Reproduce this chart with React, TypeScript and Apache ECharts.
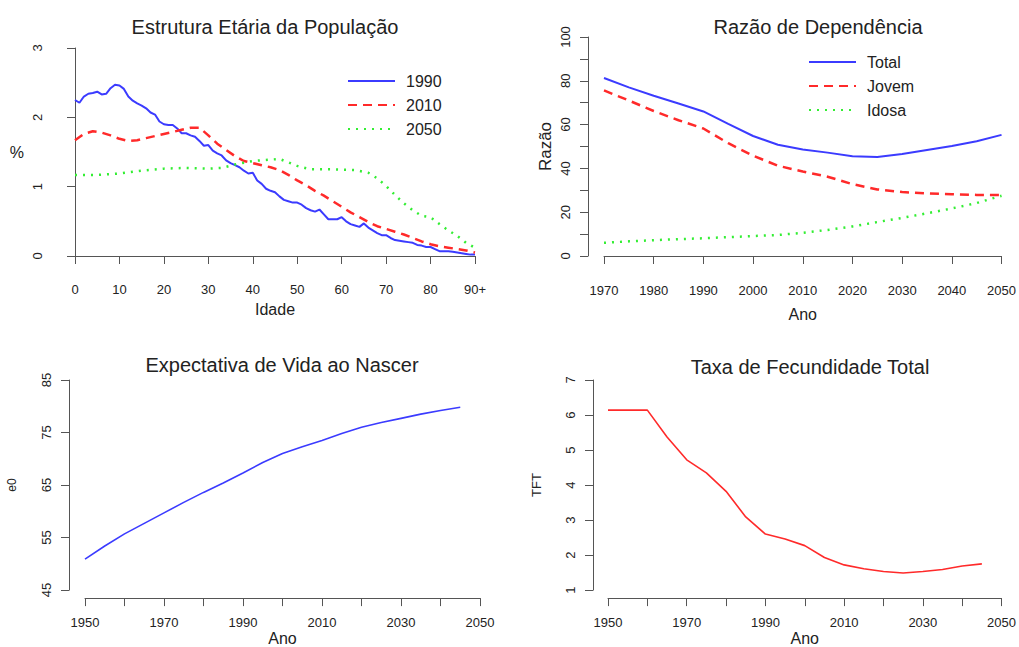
import React, { useEffect, useRef } from "react";
import * as echarts from "echarts";

// Panel 1: Estrutura Etária da População (% by age)
const ages1990 = Array.from({ length: 91 }, (_, i) => i);
const pct1990 = [2.25, 2.21, 2.3, 2.34, 2.35, 2.37, 2.33, 2.34, 2.42, 2.47, 2.46, 2.41, 2.3, 2.24, 2.2, 2.17, 2.13, 2.07, 2.04, 1.94, 1.9, 1.89, 1.89, 1.84, 1.77, 1.77, 1.74, 1.72, 1.66, 1.59, 1.6, 1.52, 1.48, 1.45, 1.38, 1.34, 1.31, 1.28, 1.23, 1.19, 1.2, 1.09, 1.04, 0.97, 0.94, 0.92, 0.86, 0.81, 0.79, 0.77, 0.77, 0.74, 0.69, 0.66, 0.64, 0.67, 0.6, 0.53, 0.53, 0.53, 0.56, 0.5, 0.46, 0.44, 0.42, 0.47, 0.41, 0.37, 0.33, 0.3, 0.3, 0.26, 0.23, 0.22, 0.21, 0.2, 0.19, 0.16, 0.15, 0.13, 0.13, 0.1, 0.07, 0.07, 0.07, 0.06, 0.05, 0.04, 0.03, 0.02, 0.02];
const ages2010 = [0, 2, 4, 6, 8, 10, 12, 14, 16, 18, 20, 22, 24, 26, 28, 30, 32, 34, 36, 38, 40, 42, 44, 46, 48, 50, 52, 54, 56, 58, 60, 62, 64, 66, 68, 70, 72, 74, 76, 78, 80, 82, 84, 86, 88, 90];
const pct2010 = [1.67, 1.76, 1.8, 1.78, 1.74, 1.69, 1.66, 1.67, 1.7, 1.73, 1.76, 1.79, 1.82, 1.85, 1.85, 1.74, 1.62, 1.53, 1.44, 1.37, 1.34, 1.31, 1.28, 1.24, 1.17, 1.09, 1.02, 0.94, 0.87, 0.79, 0.71, 0.63, 0.56, 0.49, 0.43, 0.39, 0.35, 0.31, 0.26, 0.21, 0.17, 0.14, 0.12, 0.1, 0.08, 0.05];
const ages2050 = [0, 5, 10, 15, 20, 25, 30, 33, 36, 40, 44, 46, 48, 50, 53, 58, 63, 66, 68, 70, 72, 74, 76, 78, 80, 82, 84, 86, 88, 90];
const pct2050 = [1.17, 1.17, 1.19, 1.23, 1.26, 1.27, 1.26, 1.27, 1.32, 1.37, 1.39, 1.4, 1.35, 1.3, 1.25, 1.25, 1.24, 1.2, 1.12, 1.01, 0.88, 0.76, 0.66, 0.58, 0.56, 0.46, 0.37, 0.29, 0.19, 0.12];

// Panel 2: Razão de Dependência
const yearsDep = [1970, 1975, 1980, 1985, 1990, 1995, 2000, 2005, 2010, 2015, 2020, 2025, 2030, 2035, 2040, 2045, 2050];
const depTotal = [81.3, 77, 73.2, 69.6, 66, 60.3, 54.8, 50.8, 48.6, 47.2, 45.6, 45.2, 46.6, 48.4, 50.2, 52.4, 55.3];
const depJovem = [75.6, 71, 66.2, 62, 58.2, 51.5, 45.8, 41.2, 38.6, 36.2, 32.8, 30.4, 29.2, 28.6, 28.2, 27.9, 27.8];
const depIdosa = [6.0, 6.7, 7.2, 7.7, 8.1, 8.6, 9.1, 9.6, 10.6, 11.9, 13.5, 15.5, 17.4, 19.5, 21.7, 24.2, 27.5];

// Panel 3: Expectativa de Vida ao Nascer
const yearsE0 = [1950, 1955, 1960, 1965, 1970, 1975, 1980, 1985, 1990, 1995, 2000, 2005, 2010, 2015, 2020, 2025, 2030, 2035, 2040, 2045];
const e0 = [50.9, 53.4, 55.7, 57.7, 59.7, 61.7, 63.6, 65.4, 67.3, 69.3, 71.0, 72.3, 73.5, 74.8, 76.0, 76.9, 77.7, 78.5, 79.2, 79.8];

// Panel 4: Taxa de Fecundidade Total
const yearsTft = [1950, 1955, 1960, 1965, 1970, 1975, 1980, 1985, 1990, 1995, 2000, 2005, 2010, 2015, 2020, 2025, 2030, 2035, 2040, 2045];
const tft = [6.14, 6.14, 6.14, 5.37, 4.72, 4.35, 3.82, 3.09, 2.6, 2.46, 2.27, 1.93, 1.72, 1.61, 1.53, 1.49, 1.53, 1.59, 1.69, 1.75];

const FONT = "Liberation Sans, Arial, sans-serif";
const AXIS_COLOR = "#555";
const TEXT_COLOR = "#222";
const BLUE = "#3b3bff";
const RED = "#ff2a2a";
const GREEN = "#33ee33";

const zip = (xs: number[], ys: number[]) => xs.map((x, i) => [x, ys[i]]);

function xAx(gridIndex: number, min: number, max: number, interval: number, offset: number, name: string, nameGap: number, fmt: (v: number) => string) {
  return {
    type: "value",
    gridIndex,
    min,
    max,
    interval,
    offset,
    name,
    nameLocation: "middle",
    nameGap,
    nameTextStyle: { fontFamily: FONT, fontSize: 16, color: TEXT_COLOR },
    splitLine: { show: false },
    axisLine: { show: true, lineStyle: { color: AXIS_COLOR, width: 1 } },
    axisTick: { show: true, length: 8, lineStyle: { color: AXIS_COLOR } },
    axisLabel: { fontFamily: FONT, fontSize: 13, color: TEXT_COLOR, margin: 18, formatter: fmt, showMinLabel: true, showMaxLabel: true, hideOverlap: false },
  };
}

function yAx(gridIndex: number, min: number, max: number, interval: number, offset: number, name: string, nameGap: number, nameSize: number, nameRotate: number, fmt: (v: number) => string) {
  return {
    type: "value",
    gridIndex,
    min,
    max,
    interval,
    offset,
    name,
    nameLocation: "middle",
    nameGap,
    nameRotate,
    nameTextStyle: { fontFamily: FONT, fontSize: nameSize, color: TEXT_COLOR },
    splitLine: { show: false },
    axisLine: { show: true, lineStyle: { color: AXIS_COLOR, width: 1 } },
    axisTick: { show: true, length: 8, lineStyle: { color: AXIS_COLOR } },
    axisLabel: { fontFamily: FONT, fontSize: 13, color: TEXT_COLOR, margin: 16, rotate: 90, formatter: fmt, showMinLabel: true, showMaxLabel: true, hideOverlap: false },
  };
}

const lineSeries = (name: string, x: number, y: number, data: number[][], color: string, type: any, width: number) => ({
  name,
  type: "line",
  xAxisIndex: x,
  yAxisIndex: y,
  data,
  symbol: "none",
  smooth: false,
  lineStyle: { color, type, width },
  itemStyle: { color },
});

const legendBase = {
  orient: "vertical",
  itemWidth: 47,
  itemHeight: 14,
  itemGap: 8,
  itemStyle: { color: "transparent", borderWidth: 0, opacity: 0 },
  textStyle: { fontFamily: FONT, fontSize: 16, color: TEXT_COLOR, padding: [0, 0, 0, 6] },
  selectedMode: false,
};

export default function App() {
  const ref = useRef<HTMLDivElement>(null);
  useEffect(() => {
    if (!ref.current) return;
    const chart = echarts.init(ref.current, null, { renderer: "svg" });
    const titleStyle = { fontFamily: FONT, fontSize: 20, fontWeight: "normal", color: TEXT_COLOR };
    chart.setOption({
      animation: false,
      backgroundColor: "#ffffff",
      title: [
        { text: "Estrutura Etária da População", left: 260, top: 12, textAlign: "center", textStyle: titleStyle },
        { text: "Razão de Dependência", left: 813, top: 12, textAlign: "center", textStyle: titleStyle },
        { text: "Expectativa de Vida ao Nascer", left: 277, top: 350, textAlign: "center", textStyle: titleStyle },
        { text: "Taxa de Fecundidade Total", left: 805, top: 352, textAlign: "center", textStyle: titleStyle },
      ],
      legend: [
        { ...legendBase, data: ["1990", "2010", "2050"], left: 342, top: 68 },
        { ...legendBase, data: ["Total", "Jovem", "Idosa"], left: 803, top: 49 },
      ],
      grid: [
        { left: 75, top: 48, width: 400, height: 208 },
        { left: 604, top: 37, width: 400, height: 219 },
        { left: 85, top: 380, width: 395, height: 215 },
        { left: 608, top: 380, width: 395, height: 215 },
      ],
      xAxis: [
        xAx(0, 0, 90, 10, 9, "Idade", 36, (v) => (v === 90 ? "90+" : String(v))),
        xAx(1, 1970, 2050, 10, 10, "Ano", 40, (v) => String(v)),
        xAx(2, 1950, 2050, 10, 8, "Ano", 31, (v) => ((v - 1950) % 20 === 0 ? String(v) : "")),
        xAx(3, 1950, 2050, 10, 8, "Ano", 31, (v) => ((v - 1950) % 20 === 0 ? String(v) : "")),
      ],
      yAxis: [
        yAx(0, 0, 3, 1, 15, "%", 36, 16, 0, (v) => String(v)),
        yAx(1, 0, 100, 10, 16, "Razão", 34, 17, 90, (v) => (v % 20 === 0 ? String(v) : "")),
        yAx(2, 45, 85, 10, 16, "e0", 51, 12, 90, (v) => String(v)),
        yAx(3, 1, 7, 1, 15, "TFT", 50, 13, 90, (v) => String(v)),
      ],
      series: [
        lineSeries("1990", 0, 0, zip(ages1990, pct1990), BLUE, "solid", 2),
        lineSeries("2010", 0, 0, zip(ages2010, pct2010), RED, [9, 6], 2.5),
        lineSeries("2050", 0, 0, zip(ages2050, pct2050), GREEN, [2, 6], 2.5),
        lineSeries("Total", 1, 1, zip(yearsDep, depTotal), BLUE, "solid", 2),
        lineSeries("Jovem", 1, 1, zip(yearsDep, depJovem), RED, [9, 6], 2.5),
        lineSeries("Idosa", 1, 1, zip(yearsDep, depIdosa), GREEN, [2, 6], 2.5),
        lineSeries("e0", 2, 2, zip(yearsE0, e0), BLUE, "solid", 1.6),
        lineSeries("TFT", 3, 3, zip(yearsTft, tft), RED, "solid", 1.6),
      ],
    });
    return () => chart.dispose();
  }, []);
  return <div ref={ref} style={{ position: "fixed", left: 0, top: 0, width: 1019, height: 647 }} />;
}
